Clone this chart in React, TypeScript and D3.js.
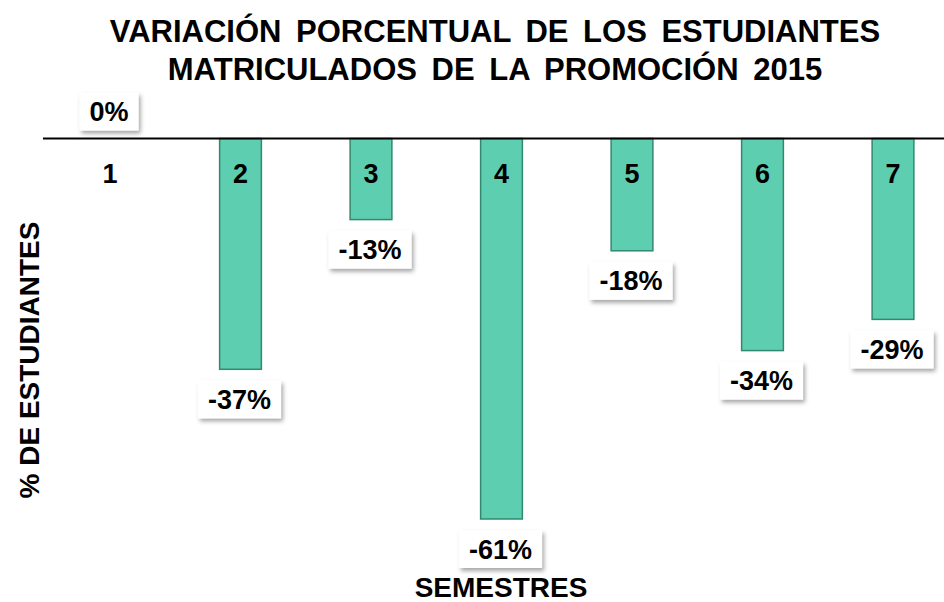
import React, { useEffect, useRef } from 'react';
import * as d3 from 'd3';

const categories = ['1', '2', '3', '4', '5', '6', '7'];
const values = [0, -37, -13, -61, -18, -34, -29];
const valueLabels = ['0%', '-37%', '-13%', '-61%', '-18%', '-34%', '-29%'];
const titleLines = ['VARIACIÓN PORCENTUAL DE LOS ESTUDIANTES', 'MATRICULADOS DE LA PROMOCIÓN 2015'];
const xTitle = 'SEMESTRES';
const yTitle = '% DE ESTUDIANTES';

const W = 944;
const H = 602;
const FONT = "'Liberation Sans', Arial, sans-serif";

export default function App() {
  const ref = useRef<SVGSVGElement>(null);

  useEffect(() => {
    const svg = d3.select(ref.current);
    svg.selectAll('*').remove();

    const defs = svg.append('defs');
    const f = defs.append('filter').attr('id', 'shadow').attr('x', '-20%').attr('y', '-20%').attr('width', '150%').attr('height', '160%');
    f.append('feDropShadow').attr('dx', 2).attr('dy', 3).attr('stdDeviation', 2.2).attr('flood-color', '#000').attr('flood-opacity', 0.35);

    const x = d3.scalePoint<string>().domain(categories).range([44.75, 958.25]).padding(0.5);
    const step = x.step();
    const barW = step * 0.32;
    const y = d3.scaleLinear().domain([0, -61]).range([138.5, 519]);

    // title
    const title = svg.append('text').attr('x', 495).attr('text-anchor', 'middle')
      .style('font-family', FONT).style('font-weight', 'bold').style('font-size', '31px')
      .style('word-spacing', '6px').attr('fill', '#000');
    titleLines.forEach((t, i) => {
      title.append('tspan').attr('x', 495).attr('y', 42 + i * 38).text(t);
    });

    // bars
    svg.append('g').selectAll('rect').data(values).join('rect')
      .attr('x', (_, i) => x(categories[i])! - barW / 2)
      .attr('y', y(0))
      .attr('width', barW)
      .attr('height', d => Math.max(0, y(d) - y(0)))
      .attr('fill', '#5DCFB0')
      .attr('stroke', '#34886F')
      .attr('stroke-width', 1.5)
      .attr('opacity', d => (d === 0 ? 0 : 1));

    // axis line
    svg.append('line').attr('x1', 43).attr('x2', W).attr('y1', y(0)).attr('y2', y(0))
      .attr('stroke', '#000').attr('stroke-width', 2);

    // category labels
    svg.append('g').selectAll('text').data(categories).join('text')
      .attr('x', d => x(d)!).attr('y', 183)
      .attr('text-anchor', 'middle')
      .style('font-family', FONT).style('font-weight', 'bold').style('font-size', '27px')
      .text(d => d);

    // value labels with boxes
    const lg = svg.append('g');
    values.forEach((v, i) => {
      const cx = x(categories[i])! - 1;
      const boxH = 38;
      const top = v === 0 ? y(0) - 8 - boxH : y(v) + 11;
      const g = lg.append('g');
      const rect = g.append('rect').attr('fill', '#fff').attr('filter', 'url(#shadow)');
      const t = g.append('text').attr('x', cx).attr('y', top + boxH / 2 + 9.5)
        .attr('text-anchor', 'middle')
        .style('font-family', FONT).style('font-weight', 'bold').style('font-size', '27px')
        .text(valueLabels[i]);
      const tw = (t.node() as SVGTextElement).getComputedTextLength();
      const bw = tw + 20;
      rect.attr('x', cx - bw / 2).attr('y', top).attr('width', bw).attr('height', boxH);
    });

    // axis titles
    svg.append('text').attr('x', 501).attr('y', 597).attr('text-anchor', 'middle')
      .style('font-family', FONT).style('font-weight', 'bold').style('font-size', '28px')
      .text(xTitle);
    svg.append('text').attr('transform', 'translate(39,360) rotate(-90)').attr('text-anchor', 'middle')
      .style('font-family', FONT).style('font-weight', 'bold').style('font-size', '28px')
      .text(yTitle);
  }, []);

  return (
    <svg ref={ref} width={W} height={H} style={{ position: 'absolute', left: 0, top: 0, background: '#fff' }} />
  );
}
